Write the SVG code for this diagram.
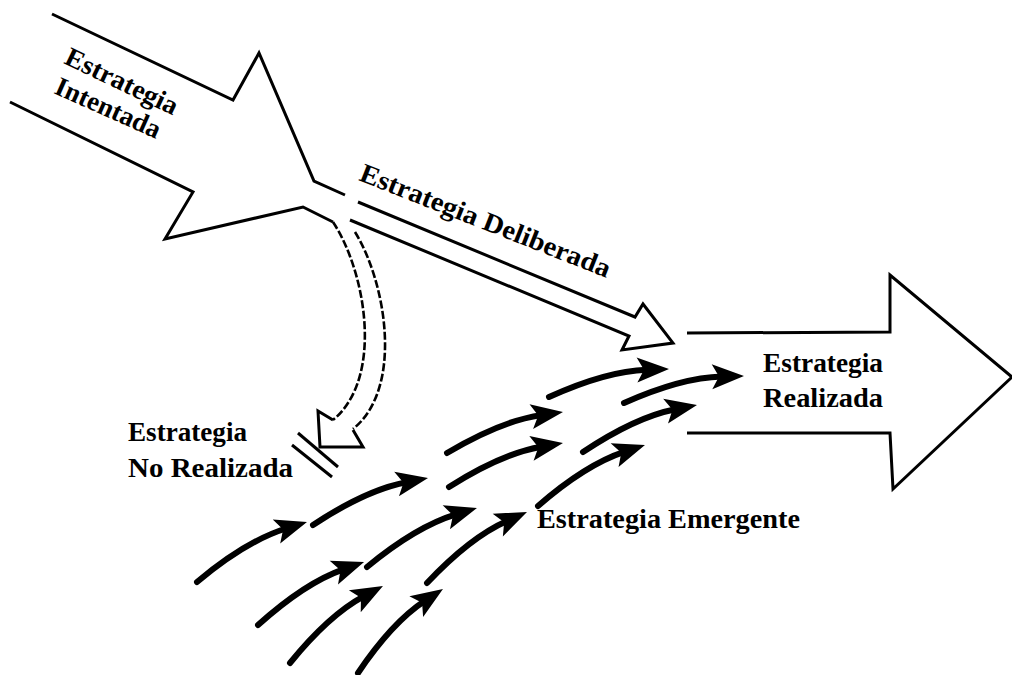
<svg xmlns="http://www.w3.org/2000/svg" width="1012" height="675" viewBox="0 0 1012 675">
<style>
.out{fill:none;stroke:#000;stroke-width:3;stroke-linejoin:miter;stroke-linecap:butt}
.dash{fill:none;stroke:#000;stroke-width:2.6;stroke-dasharray:8 2.5}
.em{fill:none;stroke:#000;stroke-width:6;stroke-linecap:round;marker-end:url(#head)}
.lbl{font-family:"Liberation Serif","Times New Roman",serif;font-weight:bold;font-size:27px;fill:#000}
</style>
<defs>
<marker id="head" markerUnits="userSpaceOnUse" orient="auto" refX="0" refY="0" markerWidth="40" markerHeight="30" overflow="visible">
<path d="M22,0 L-10,-12.5 L-3,0 L-10,12.5 Z" fill="#000"/>
</marker>
</defs>
<rect width="1012" height="675" fill="#fff"/>

<g id="intentada">
<polyline class="out" points="52,14 233,100 259,53 314,181 345,195"/>
<polyline class="out" points="10,102 193,192 165,239 303,207 333,222"/>
<text class="lbl" transform="translate(63,63) rotate(25.5)" textLength="122" lengthAdjust="spacingAndGlyphs">Estrategia</text>
<text class="lbl" transform="translate(53,93) rotate(24)" textLength="113" lengthAdjust="spacingAndGlyphs">Intentada</text>
</g>

<g id="deliberada">
<polyline class="out" points="358,202 635,317 643,304 673,343 622,350 629,336 350,220"/>
<text class="lbl" transform="translate(358,180) rotate(21.5)" textLength="267" lengthAdjust="spacingAndGlyphs">Estrategia Deliberada</text>
</g>

<g id="no-realizada">
<path class="dash" d="M333,222 C366,272 384,378 333,420"/>
<path class="dash" d="M355,232 C386,282 404,388 353,429"/>
<polyline class="out" points="333,420 318,411 320,447 363,447 353,430"/>
<line class="out" x1="298" y1="433" x2="338" y2="467"/>
<line class="out" x1="292" y1="445" x2="332" y2="477"/>
<text class="lbl" x="128" y="441" textLength="119" lengthAdjust="spacingAndGlyphs">Estrategia</text>
<text class="lbl" x="128" y="477" textLength="165" lengthAdjust="spacingAndGlyphs">No Realizada</text>
</g>

<g id="realizada">
<polyline class="out" points="687,333 890,332 890,275 1012,377 893,489 890,433 687,433"/>
<text class="lbl" x="763" y="372" textLength="120" lengthAdjust="spacingAndGlyphs">Estrategia</text>
<text class="lbl" x="763" y="407" textLength="120" lengthAdjust="spacingAndGlyphs">Realizada</text>
</g>

<g id="emergente">
<text class="lbl" x="537" y="528" textLength="263" lengthAdjust="spacingAndGlyphs">Estrategia Emergente</text>
</g>

<g id="connectors">
<path class="em" d="M197,582 Q246,541 286,528.5"/>
<path class="em" d="M313,525 Q365.8,490 406.4,482.2"/>
<path class="em" d="M447,453 Q500.9,420.9 541.2,415.1"/>
<path class="em" d="M549,397 Q606.2,371 647,369.7"/>
<path class="em" d="M258,625 Q304.7,582.9 343.3,569.3"/>
<path class="em" d="M367,567 Q416.1,526.5 455.9,514.4"/>
<path class="em" d="M449,487 Q501.6,453.6 541.3,446.7"/>
<path class="em" d="M624,403 Q681.3,377.5 722,376.5"/>
<path class="em" d="M290,663 Q328.8,615.2 363.6,596.4"/>
<path class="em" d="M358,673 Q392.1,622.5 424.6,601.1"/>
<path class="em" d="M427,583 Q469.9,537.5 506.9,521"/>
<path class="em" d="M538,506 Q585.4,464.8 624.1,451.9"/>
<path class="em" d="M583,452 Q635.3,417.1 675.4,409.2"/>
</g>
</svg>
